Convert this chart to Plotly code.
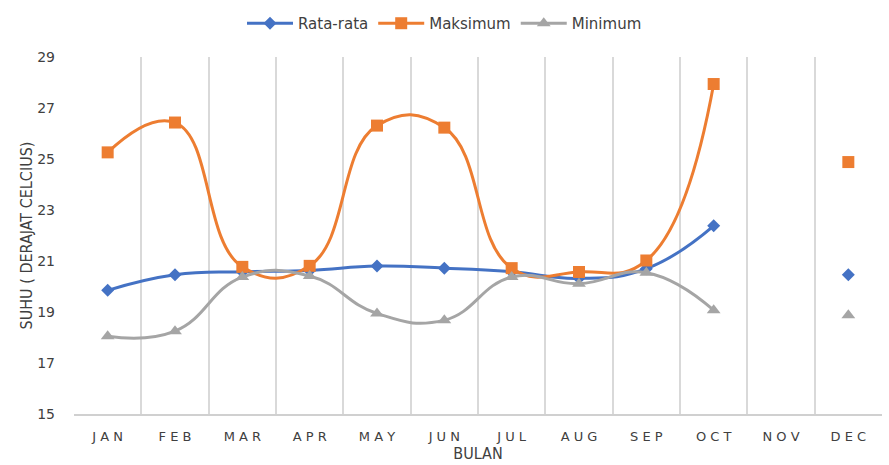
import plotly.graph_objects as go

# Monthly air temperature (°C); NOV has no observation
months = ["JAN", "FEB", "MAR", "APR", "MAY", "JUN", "JUL", "AUG", "SEP", "OCT", "NOV", "DEC"]
rata_rata = [19.85, 20.46, 20.58, 20.63, 20.80, 20.72, 20.58, 20.32, 20.70, 22.38, None, 20.46]
maksimum = [25.26, 26.43, 20.77, 20.81, 26.31, 26.23, 20.72, 20.57, 21.02, 27.94, None, 24.88]
minimum = [18.05, 18.25, 20.37, 20.41, 18.94, 18.68, 20.37, 20.11, 20.54, 19.07, None, 18.87]

# Month labels drawn with extra letter spacing
month_text = [" ".join(m) for m in months]

series = [
    ("Rata-rata", rata_rata, "#4472C4", "diamond", 10),
    ("Maksimum", maksimum, "#ED7D31", "square", 12),
    ("Minimum", minimum, "#A5A5A5", "triangle-up", 12),
]

fig = go.Figure()
for name, vals, color, symbol, size in series:
    fig.add_trace(go.Scatter(
        x=list(range(len(months))), y=vals, name=name, mode="lines+markers",
        line=dict(color=color, width=3, shape="spline", smoothing=1.3),
        marker=dict(color=color, symbol=symbol, size=size),
        connectgaps=False,
    ))

title_font = dict(family="DejaVu Sans Condensed, Liberation Sans Narrow, Liberation Sans", size=16, color="#404040")

fig.update_layout(
    width=889, height=465,
    margin=dict(l=74, r=7, t=57, b=48),
    paper_bgcolor="white", plot_bgcolor="white",
    font=dict(family="DejaVu Sans", color="#404040"),
    legend=dict(orientation="h", x=0.5, xanchor="center", xref="container",
                y=0.985, yanchor="top", yref="container",
                font=dict(size=15, color="#404040"),
                itemwidth=46, bgcolor="rgba(0,0,0,0)", tracegroupgap=0),
    showlegend=True,
)

# vertical gridlines on the month boundaries
fig.update_xaxes(
    range=[-0.5, 11.5],
    tickvals=list(range(len(months))), ticktext=month_text,
    showgrid=False, zeroline=False,
    minor=dict(tickvals=[i - 0.5 for i in range(len(months) + 1)], showgrid=True,
               gridcolor="#d9d9d9", gridwidth=1.5),
    showline=True, linecolor="#d0d0d0", linewidth=1.5,
    ticks="", ticklabelstandoff=10,
    tickfont=dict(family="DejaVu Sans", size=13, color="#404040"),
    title=dict(text="BULAN", font=title_font, standoff=2),
)
fig.update_yaxes(
    range=[15, 29], tickvals=[15, 17, 19, 21, 23, 25, 27, 29],
    showgrid=False, zeroline=False, showline=False, ticks="",
    ticklabelstandoff=18,
    tickfont=dict(family="DejaVu Sans", size=14, color="#404040"),
    title=dict(text="SUHU ( DERAJAT CELCIUS)", font=title_font, standoff=0),
)

fig.write_html("out.html")
